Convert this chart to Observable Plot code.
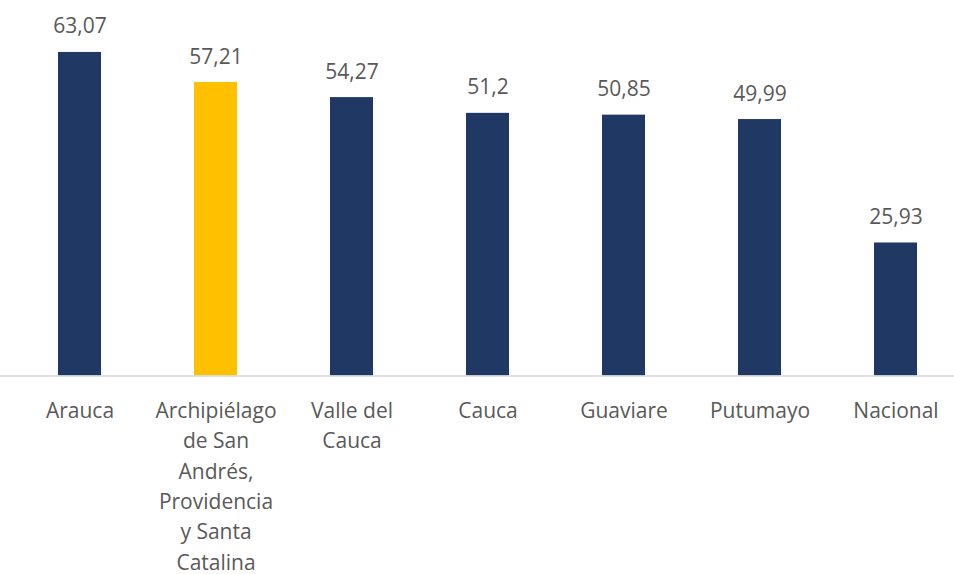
<!DOCTYPE html>
<html>
<head>
<meta charset="utf-8">
<script src="https://cdn.jsdelivr.net/npm/d3@7"></script>
<script src="https://cdn.jsdelivr.net/npm/@observablehq/plot@0.6"></script>
<style>
  html, body { margin: 0; padding: 0; background: #fff; }
  #chart svg { display: block; }
</style>
</head>
<body>
<div id="chart"></div>
<script>
const categories = [
  "Arauca",
  "Archipiélago\nde San\nAndrés,\nProvidencia\ny Santa\nCatalina",
  "Valle del\nCauca",
  "Cauca",
  "Guaviare",
  "Putumayo",
  "Nacional"
];
const values = [63.07, 57.21, 54.27, 51.2, 50.85, 49.99, 25.93];
const valueLabels = ["63,07", "57,21", "54,27", "51,2", "50,85", "49,99", "25,93"];
const highlighted = [false, true, false, false, false, false, false];

const data = categories.map((c, i) => ({
  category: c, value: values[i], label: valueLabels[i], hi: highlighted[i]
}));

const font = "'Open Sans', 'Noto Sans', sans-serif";
const textColor = "#595959";

const chart = Plot.plot({
  width: 954,
  height: 574,
  marginTop: 0, marginBottom: 0, marginLeft: 0, marginRight: 0,
  style: { fontFamily: font, background: "#fff" },
  x: { domain: categories, range: [8, 966], paddingInner: 0.686, paddingOuter: 0.343, align: 0.5, axis: null },
  y: { domain: [0, 70], range: [375.5, 375.5 - 70 * 5.13], axis: null },
  marks: [
    Plot.barY(data, {
      x: "category", y: "value",
      fill: d => d.hi ? "#FFC000" : "#203864"
    }),
    Plot.ruleY([0], { stroke: "#d9d9d9", strokeWidth: 1.5 }),
    Plot.text(data, {
      x: "category", y: "value", text: "label",
      lineAnchor: "bottom", dy: -19,
      fontSize: 21, fill: textColor, fontFamily: font
    }),
    Plot.text(data, {
      x: "category", y: () => 0, text: "category",
      lineAnchor: "top", dy: 20, lineHeight: 1.45,
      fontSize: 21, fill: textColor, fontFamily: font
    })
  ]
});

document.getElementById("chart").appendChild(chart);
</script>
</body>
</html>
